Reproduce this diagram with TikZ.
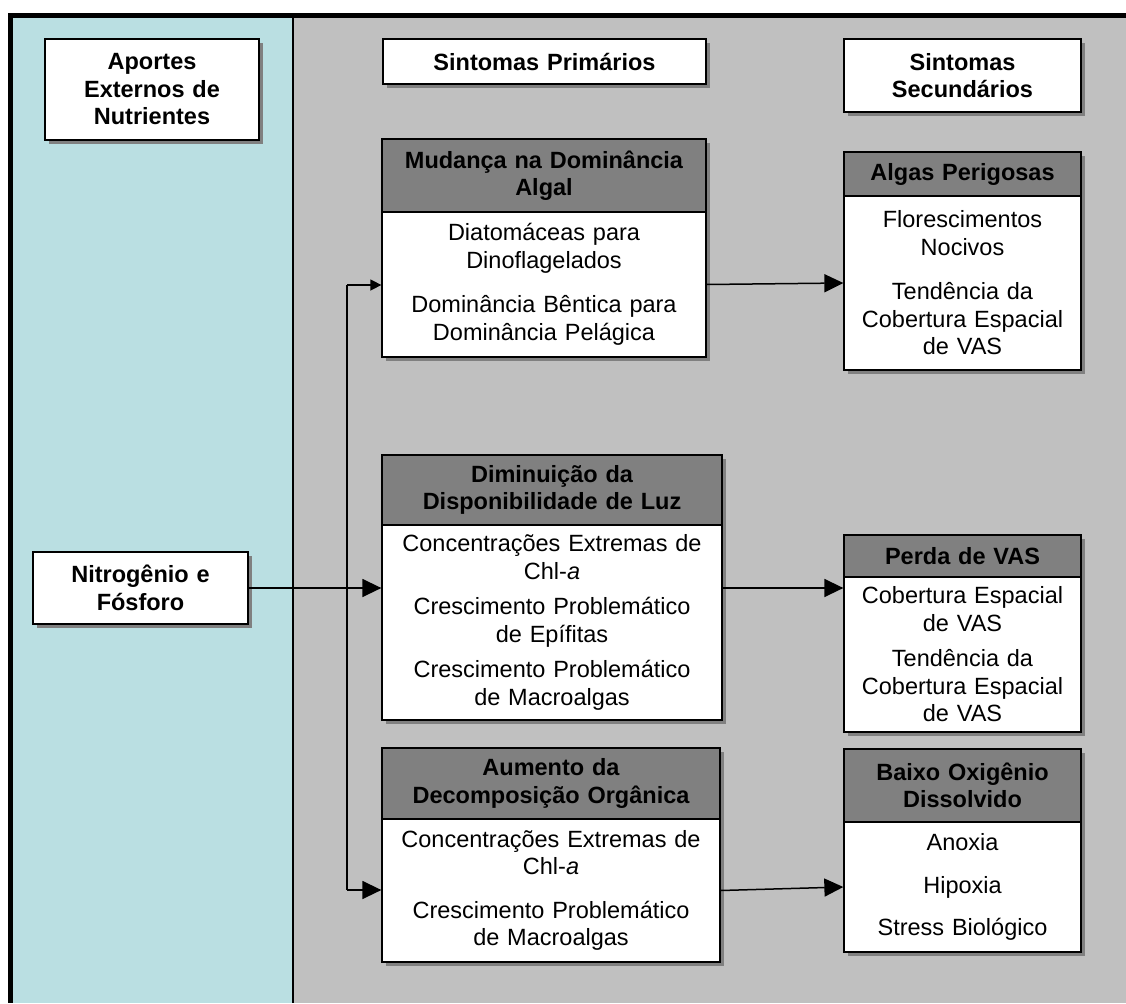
\documentclass[tikz,border=0pt]{standalone}
\usepackage{fontspec}
\setmainfont{Liberation Sans}
\usetikzlibrary{arrows.meta,shadows}
\definecolor{panelcyan}{RGB}{186,223,226}
\definecolor{panelgray}{RGB}{192,192,192}
\definecolor{headgray}{RGB}{128,128,128}
\definecolor{shadowgray}{RGB}{128,128,128}
\begin{document}
\begin{tikzpicture}[x=1pt,y=-1pt,
  font=\fontsize{23.5pt}{27.5pt}\selectfont,
  plainbox/.style={draw=black, line width=1.3pt, fill=white, inner sep=0pt, align=center,
    drop shadow={shadow xshift=4pt, shadow yshift=-4pt, fill=shadowgray, opacity=1}},
  titlebox/.style={plainbox, font=\fontsize{23.5pt}{27.5pt}\selectfont\bfseries},
  headbox/.style={titlebox, fill=headgray},
  conn/.style={line width=1.5pt, draw=black},
  bigarr/.style={conn, -{Triangle[length=19pt,width=18pt]}},
  smallarr/.style={conn, -{Triangle[length=11pt,width=11pt]}}
]
\useasboundingbox (0,0) rectangle (1126,1003);
\fill[white] (0,0) rectangle (1126,1003);
% panels
\fill[panelcyan] (13,18) rectangle (293,1003);
\fill[panelgray] (293,18) rectangle (1126,1003);
\draw[line width=1.3pt] (293,18) -- (293,1003);
\fill[black] (8,13) rectangle (1126,18);
\fill[black] (8,13) rectangle (13,1003);

% column titles
\node[titlebox, text width=214pt, minimum height=101pt] (aportes) at (152,89.5) {Aportes\\Externos de\\Nutrientes};
\node[titlebox, text width=323pt, minimum height=45pt] (sprim) at (544.5,61.5) {Sintomas Primários};
\node[titlebox, text width=237pt, minimum height=73pt] (ssec) at (962.5,75.5) {Sintomas\\Secundários};

% source
\node[titlebox, text width=215pt, minimum height=72pt] (nitro) at (140.5,588) {Nitrogênio e\\Fósforo};

% primary symptoms
\node[headbox, text width=324pt, minimum height=73pt] (mudH) at (544,175.5) {Mudança na Dominância\\Algal};
\node[plainbox, text width=324pt, minimum height=145pt] (mudB) at (544,284.5) {Diatomáceas para\\Dinoflagelados\\[17pt]Dominância Bêntica para\\Dominância Pelágica};

\node[headbox, text width=340pt, minimum height=70pt] (dimH) at (552,490) {Diminuição da\\Disponibilidade de Luz};
\node[plainbox, text width=340pt, minimum height=195pt] (dimB) at (552,622.5) {Concentrações Extremas de\\Chl-\textit{a}\\[8pt]Crescimento Problemático\\de Epífitas\\[8pt]Crescimento Problemático\\de Macroalgas};

\node[headbox, text width=338pt, minimum height=71pt] (aumH) at (551,783.5) {Aumento da\\Decomposição Orgânica};
\node[plainbox, text width=338pt, minimum height=143pt] (aumB) at (551,890.5) {Concentrações Extremas de\\Chl-\textit{a}\\[16pt]Crescimento Problemático\\de Macroalgas};

% secondary symptoms
\node[headbox, text width=237pt, minimum height=44pt] (algH) at (962.5,174) {Algas Perigosas};
\node[plainbox, text width=237pt, minimum height=174pt] (algB) at (962.5,283) {Florescimentos\\Nocivos\\[17pt]Tendência da\\Cobertura Espacial\\de VAS};

\node[headbox, text width=237pt, minimum height=42pt] (perH) at (962.5,556) {Perda de VAS};
\node[plainbox, text width=237pt, minimum height=155pt] (perB) at (962.5,654.5) {Cobertura Espacial\\de VAS\\[8pt]Tendência da\\Cobertura Espacial\\de VAS};

\node[headbox, text width=237pt, minimum height=73pt] (baiH) at (962.5,785.5) {Baixo Oxigênio\\Dissolvido};
\node[plainbox, text width=237pt, minimum height=130pt] (baiB) at (962.5,887) {Anoxia\\[15pt]Hipoxia\\[15pt]Stress Biológico};

% connectors
\coordinate (jt) at (347,285);
\coordinate (jb) at (347,890);
\draw[conn] (jt) -- (jb);
\draw[smallarr] (jt) -- (jt -| mudB.west);
\draw[bigarr] (jb) -- (jb -| aumB.west);
\draw[bigarr] (nitro.east) -- (nitro.east -| dimB.west);
\draw[bigarr] (mudB.east) -- (algB.west);
\draw[bigarr] (nitro.east -| dimB.east) -- (nitro.east -| perB.west);
\draw[bigarr] (aumB.east) -- (baiB.west);
\end{tikzpicture}
\end{document}
